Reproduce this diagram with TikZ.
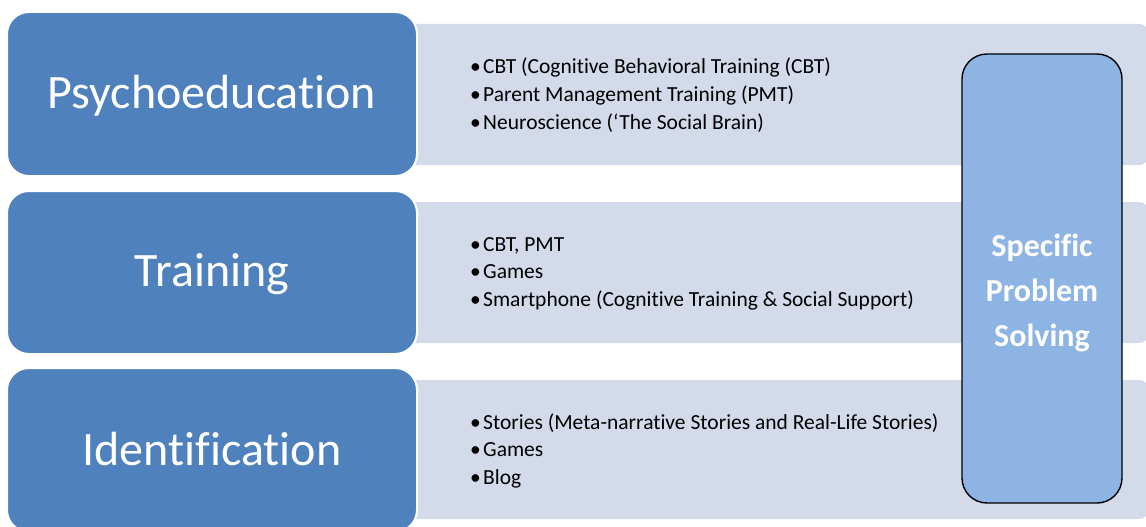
\documentclass[tikz,border=0pt]{standalone}
\usepackage{fontspec}
\setmainfont{Carlito}[Ligatures=NoCommon]
\definecolor{mainblue}{HTML}{4F81BD}
\definecolor{panelgrey}{HTML}{D3DAE9}
\definecolor{lightblue}{HTML}{8EB4E3}
\begin{document}
\begin{tikzpicture}[x=1pt,y=-1pt,
  panel/.style={fill=panelgrey, draw=none, rounded corners=14pt},
  headbox/.style={fill=mainblue, draw=white, line width=2pt, rounded corners=22pt},
  headtext/.style={text=white, font=\fontsize{48}{56}\selectfont, anchor=base, inner sep=0pt},
  item/.style={anchor=base west, inner sep=0pt, font=\fontsize{21.5}{26}\selectfont, text=black},
  sidebox/.style={fill=lightblue, draw=black, line width=1.4pt, rounded corners=25pt},
  sidetext/.style={text=white, font=\bfseries\fontsize{32}{38}\selectfont, anchor=base, inner sep=0pt}
]
\useasboundingbox (0,0) rectangle (1146,527);
\fill[white] (0,0) rectangle (1146,527);
\begin{scope}
\clip (0,0) rectangle (1146,527);
% grey panels
\path[panel] (395,24) rectangle (1152,165);
\path[panel] (395,202) rectangle (1152,343);
\path[panel] (395,380) rectangle (1152,519);
% blue head boxes
\draw[headbox] (7,12) rectangle (417,176);
\draw[headbox] (7,191) rectangle (417,354);
\draw[headbox] (7,368) rectangle (417,532);
\end{scope}
\node[headtext] (h1) at (212,108) {Psychoeducation};
\node[headtext] (h2) at (212,286) {Training};
\node[headtext] (h3) at (212,465) {Identification};
% items
\newcommand{\bul}{\makebox[13pt][l]{•}}
\node[item] (a1) at (470,74) {\bul CBT (Cognitive Behavioral Training (CBT)};
\node[item] (a2) at (470,101.5) {\bul Parent Management Training (PMT)};
\node[item] (a3) at (470,129) {\bul Neuroscience (‘The Social Brain)};
\node[item] (b1) at (470,251) {\bul CBT, PMT};
\node[item] (b2) at (470,278.5) {\bul Games};
\node[item] (b3) at (470,306) {\bul Smartphone (Cognitive Training \& Social Support)};
\node[item] (c1) at (470,429) {\bul Stories (Meta-narrative Stories and Real-Life Stories)};
\node[item] (c2) at (470,456.5) {\bul Games};
\node[item] (c3) at (470,484) {\bul Blog};
% side box
\draw[sidebox] (962,54) rectangle (1122,503);
\node[sidetext] (s1) at (1042,256) {Specific};
\node[sidetext] (s2) at (1042,301) {Problem};
\node[sidetext] (s3) at (1042,346) {Solving};
\end{tikzpicture}
\end{document}
